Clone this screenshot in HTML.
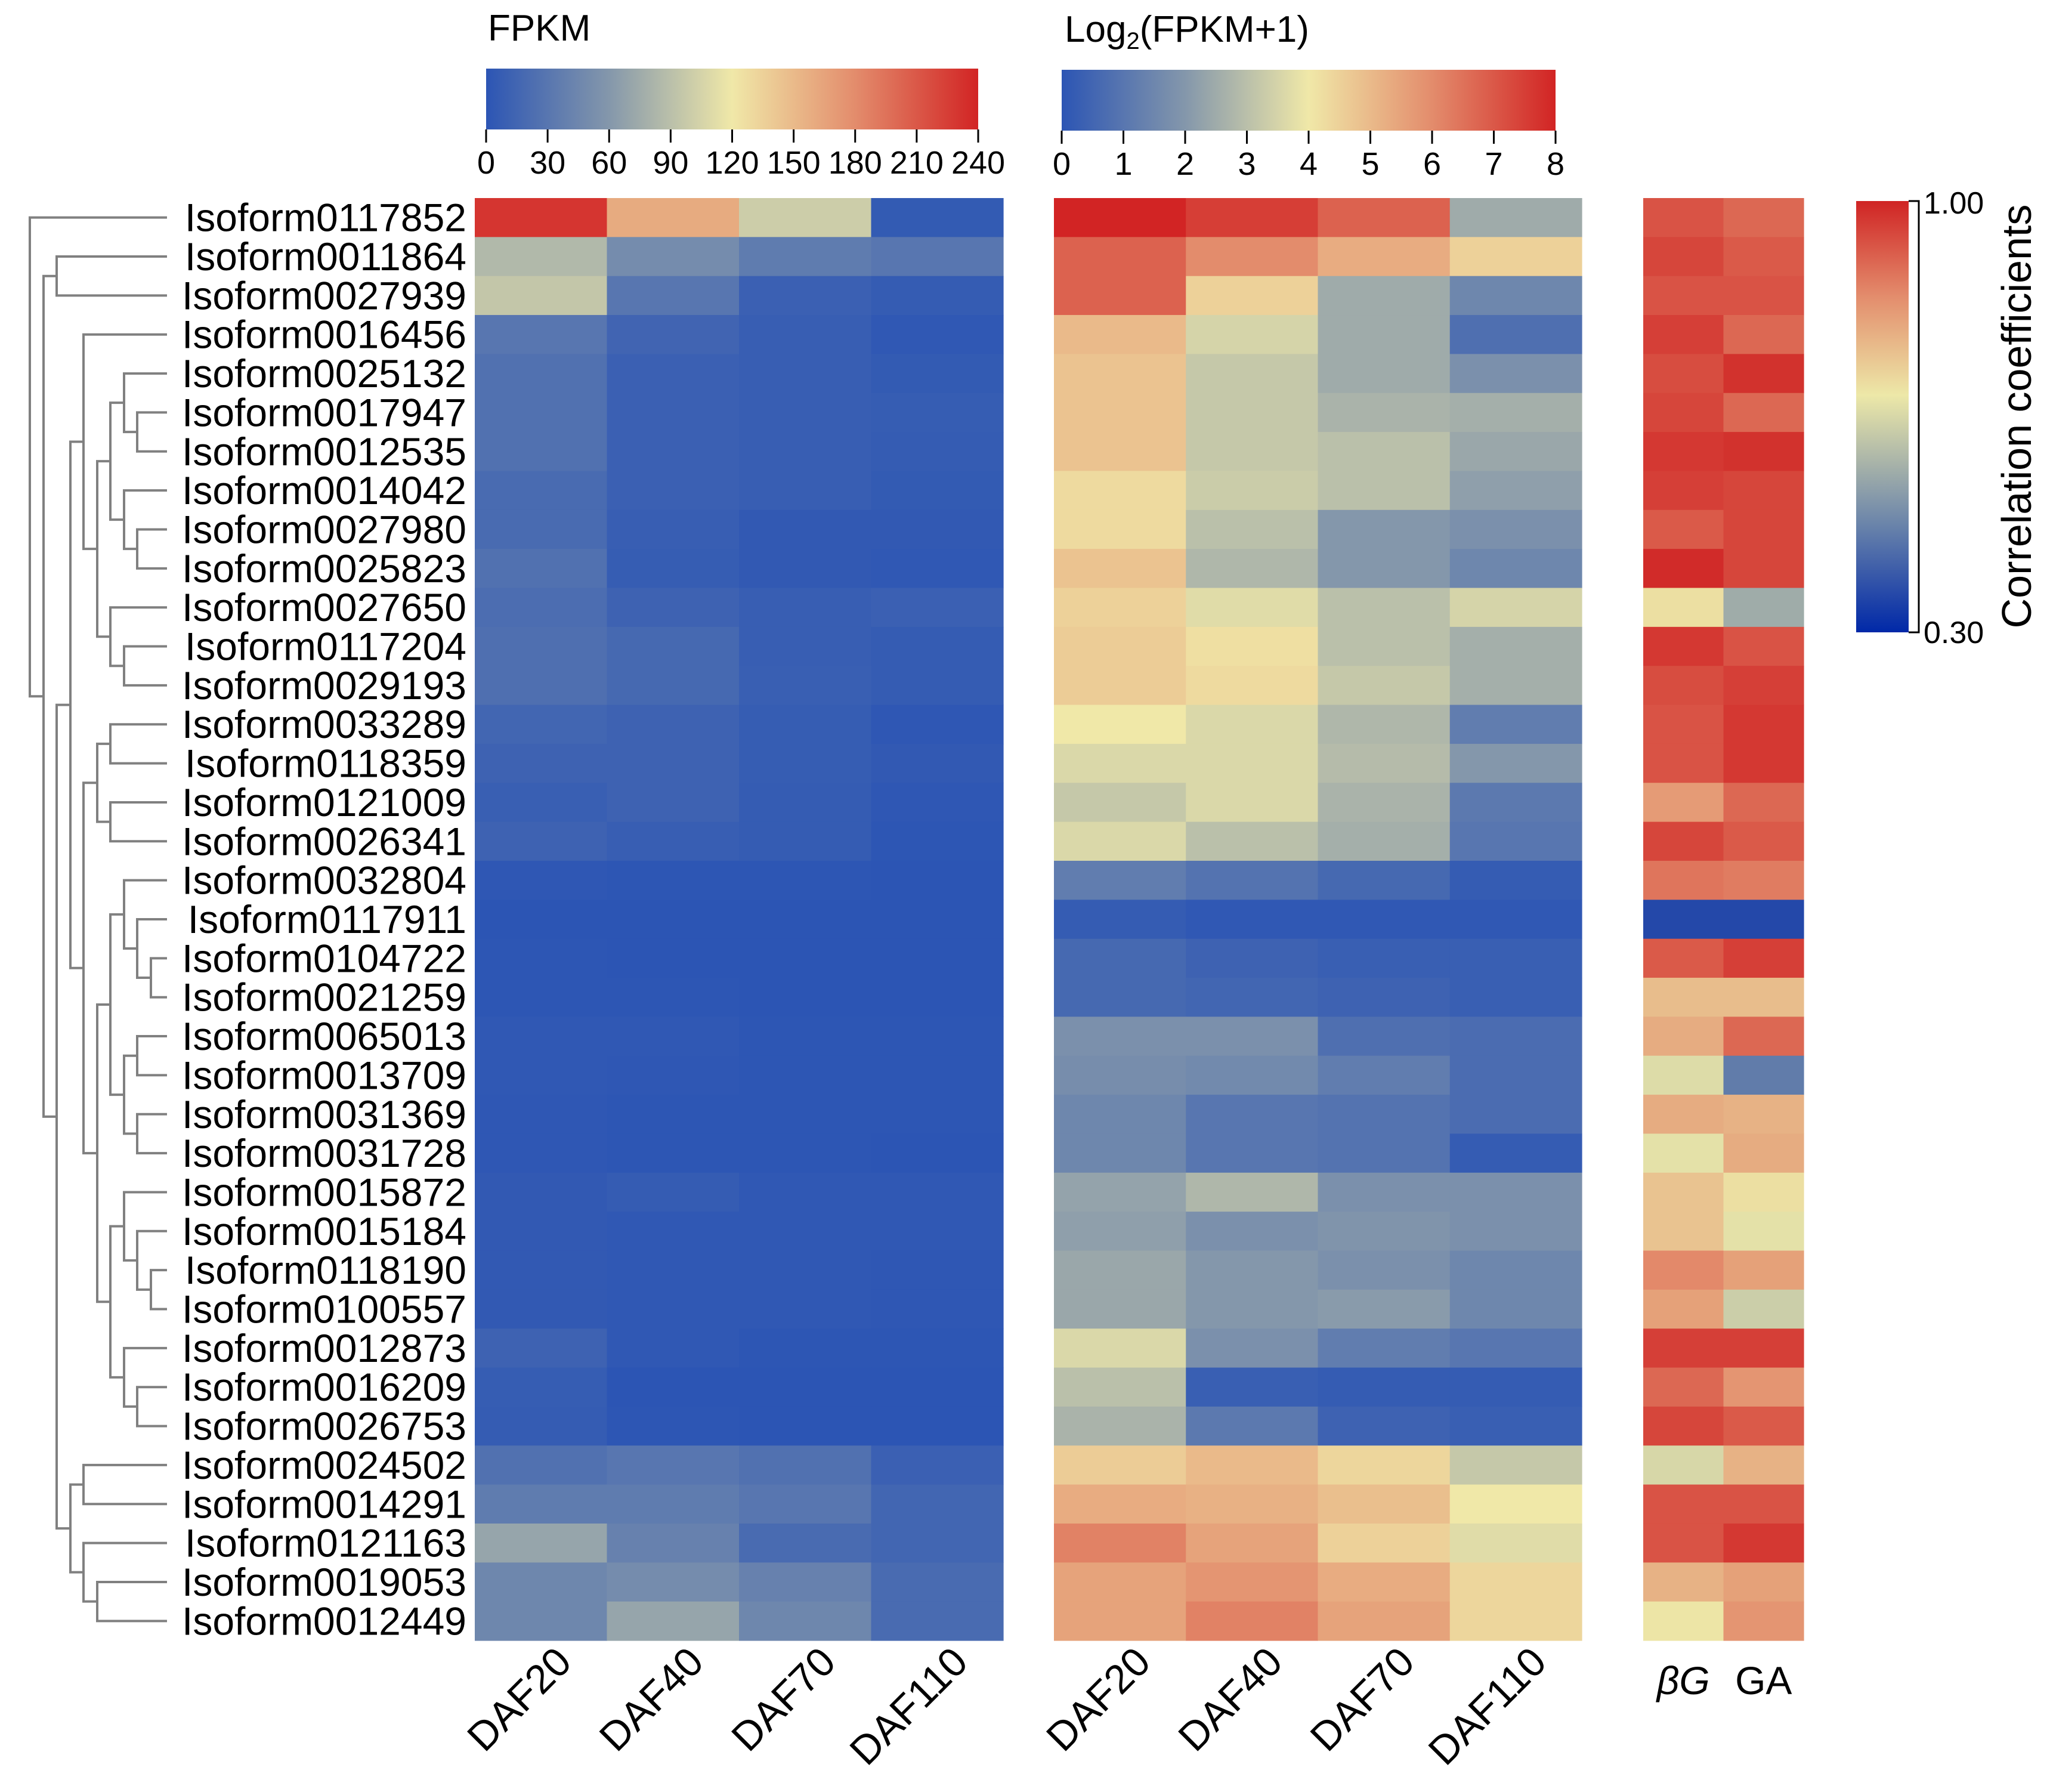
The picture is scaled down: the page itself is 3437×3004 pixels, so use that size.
<!DOCTYPE html>
<html><head><meta charset="utf-8"><style>
html,body{margin:0;padding:0;background:#fff;}
svg{display:block;font-family:"Liberation Sans",Arial,sans-serif;}
</style></head><body>
<svg id="chart" width="3437" height="3004" viewBox="0 0 3437 3004" xmlns="http://www.w3.org/2000/svg">
<defs>
<linearGradient id="gMain" x1="0" x2="1" y1="0" y2="0">
<stop offset="0" stop-color="#2c55b4"/><stop offset="0.25" stop-color="#8497ab"/><stop offset="0.5" stop-color="#f0e8a8"/><stop offset="0.75" stop-color="#e38c6c"/><stop offset="1" stop-color="#d22424"/>
</linearGradient>
<linearGradient id="gCorr" x1="0" x2="0" y1="1" y2="0">
<stop offset="0" stop-color="#0028a8"/><stop offset="0.25" stop-color="#6a84aa"/><stop offset="0.55" stop-color="#ede8a8"/><stop offset="0.78" stop-color="#e38c6c"/><stop offset="1" stop-color="#d02424"/>
</linearGradient>
</defs>
<g id="dendro"></g>
<g id="labels"></g>
<g id="hm1"></g>
<g id="hm2"></g>
<g id="hm3"></g>
<g id="legends"></g>
</svg>
<script>
const rowLabels=["Isoform0117852","Isoform0011864","Isoform0027939","Isoform0016456","Isoform0025132","Isoform0017947","Isoform0012535","Isoform0014042","Isoform0027980","Isoform0025823","Isoform0027650","Isoform0117204","Isoform0029193","Isoform0033289","Isoform0118359","Isoform0121009","Isoform0026341","Isoform0032804","Isoform0117911","Isoform0104722","Isoform0021259","Isoform0065013","Isoform0013709","Isoform0031369","Isoform0031728","Isoform0015872","Isoform0015184","Isoform0118190","Isoform0100557","Isoform0012873","Isoform0016209","Isoform0026753","Isoform0024502","Isoform0014291","Isoform0121163","Isoform0019053","Isoform0012449"];
const stages=["DAF20","DAF40","DAF70","DAF110"];
const corrCols=["βG","GA"];
const fpkmTicks=[0,30,60,90,120,150,180,210,240];
const logTicks=[0,1,2,3,4,5,6,7,8];
const corrTicks=["1.00","0.30"];
const fpkm=[[230,160,100,5],[85,50,35,30],[95,30,10,6],[30,14,8,3],[25,10,8,5],[25,10,8,7],[25,10,8,6],[20,10,8,5],[20,8,4,4],[25,7,4,3],[22,12,8,10],[24,18,8,6],[24,18,9,6],[15,12,7,2],[12,12,7,4],[9,12,6,2],[12,8,6,1],[2,1,1,0],[0,0,0,0],[1,0,0,0],[1,1,0,0],[3,3,1,1],[3,2,1,1],[2,1,1,1],[2,1,1,0],[4,6,3,3],[4,3,3,3],[4,3,3,2],[4,3,3,2],[12,3,1,1],[7,0,0,0],[6,1,0,0],[25,30,25,10],[35,35,30,15],[70,40,20,15],[45,50,40,20],[45,70,45,20]];
const log2v=[[8,7.5,6.8,2.5],[6.8,6,5.3,4.5],[6.8,4.5,2.5,1.5],[5.0,3.5,2.5,0.8],[4.8,3.2,2.5,1.8],[4.8,3.2,2.7,2.6],[4.8,3.2,3,2.4],[4.3,3.3,3,2.2],[4.3,3.0,2.0,1.8],[4.8,2.8,2.0,1.5],[4.5,3.7,3,3.5],[4.6,4.2,3.0,2.6],[4.6,4.3,3.2,2.6],[4.0,3.6,2.8,1.2],[3.6,3.6,2.9,2.0],[3.2,3.6,2.7,1.1],[3.6,3.0,2.6,1.0],[1.2,0.9,0.6,0.2],[0.2,0.1,0.1,0.1],[0.6,0.4,0.3,0.3],[0.6,0.5,0.4,0.3],[1.8,1.8,0.8,0.7],[1.7,1.6,1.2,0.7],[1.5,1.0,0.9,0.7],[1.5,1.0,0.9,0.2],[2.3,2.8,1.8,1.8],[2.2,1.8,1.9,1.8],[2.4,2.0,1.8,1.5],[2.4,2.0,2.1,1.5],[3.6,1.8,1.2,1.0],[3.0,0.3,0.2,0.2],[2.7,1.1,0.4,0.3],[4.6,5,4.4,3.2],[5.3,5.2,4.9,4],[6.2,5.5,4.5,3.7],[5.5,5.8,5.3,4.4],[5.5,6.2,5.5,4.4]];
const corr=[[.93,.90],[.95,.92],[.93,.93],[.96,.90],[.94,.98],[.95,.90],[.97,.98],[.96,.95],[.92,.95],[.99,.95],[.70,.56],[.97,.93],[.94,.96],[.93,.97],[.93,.97],[.82,.90],[.95,.92],[.88,.87],[.36,.36],[.92,.96],[.76,.76],[.79,.90],[.66,.46],[.79,.78],[.67,.79],[.75,.70],[.75,.67],[.85,.81],[.81,.63],[.96,.96],[.90,.83],[.95,.92],[.65,.78],[.93,.93],[.93,.97],[.78,.81],[.69,.83]];
const tree=[0,0,[1,[2,1,2],[2,[3,[4,3,[5,[6,[7,4,[8,5,6]],[7,7,[8,8,9]]],[6,10,[7,11,12]]]],[4,[5,[6,13,14],[6,15,16]],[5,[6,[7,17,[8,18,[9,19,20]]],[7,[8,21,22],[8,23,24]]],[6,[7,25,[8,26,[9,27,28]]],[7,29,[8,30,31]]]]]],[3,[4,32,33],[4,34,[5,35,36]]]]]];

const NS="http://www.w3.org/2000/svg";
function mk(tag,attrs,parent){const e=document.createElementNS(NS,tag);for(const k in attrs)e.setAttribute(k,attrs[k]);parent.appendChild(e);return e;}
const mainStops=[[0,[44,85,180]],[0.25,[132,151,171]],[0.5,[240,232,168]],[0.75,[227,140,108]],[1,[210,36,36]]];
const corrStops=[[0,[0,40,168]],[0.25,[106,132,170]],[0.55,[237,232,168]],[0.78,[227,140,108]],[1,[208,36,36]]];
function cmap(t,stops){t=Math.max(0,Math.min(1,t));for(let i=1;i<stops.length;i++){if(t<=stops[i][0]){const a=stops[i-1],b=stops[i];const f=(t-a[0])/(b[0]-a[0]);const c=a[1].map((v,j)=>Math.round(v+(b[1][j]-v)*f));return `rgb(${c[0]},${c[1]},${c[2]})`;}}return "rgb(208,36,36)";}
const topY=332,botY=2750,nR=rowLabels.length,rh=(botY-topY)/nR;
const yRow=i=>topY+rh*(i+0.5);
function heat(g,data,x0,x1,norm,stops,name){const nc=data[0].length,cw=(x1-x0)/nc;data.forEach((row,i)=>row.forEach((v,j)=>{const r=mk('rect',{x:x0+cw*j,y:topY+rh*i,width:cw+0.6,height:rh+0.6,fill:cmap(norm(v),stops)},g);}));}
heat(document.getElementById('hm1'),fpkm,796,1682,v=>v/240,mainStops,'fpkm');
heat(document.getElementById('hm2'),log2v,1767,2652,v=>v/8,mainStops,'log2');
heat(document.getElementById('hm3'),corr,2755,3024,v=>(v-0.3)/0.7,corrStops,'corr');
const lg=document.getElementById('labels');
rowLabels.forEach((s,i)=>{const t=mk('text',{x:782,y:yRow(i)+23,'text-anchor':'end','font-size':66,fill:'#000'},lg);t.textContent=s;});
const levels=[50,73,95,118,140,163,185,208,230,253],leafX=280;
const dg=document.getElementById('dendro');
function draw(n){if(typeof n==='number')return {x:leafX,y:yRow(n)};const L=draw(n[1]),R=draw(n[2]);const x=levels[n[0]];const p=mk('path',{d:`M${L.x},${L.y}H${x}V${R.y}H${R.x}`,fill:'none',stroke:'#808080','stroke-width':4},dg);return {x:x,y:(L.y+R.y)/2};}
draw(tree);
const leg=document.getElementById('legends');
function xlabels(x0,x1,labs,name){const cw=(x1-x0)/labs.length;labs.forEach((s,j)=>{const cx=x0+cw*(j+0.5)+55,cy=2790;const t=mk('text',{x:cx,y:cy,'text-anchor':'end','font-size':68,transform:`rotate(-45 ${cx} ${cy})`},leg);t.textContent=s;});}
xlabels(796,1682,stages,'fpkm-x-label');xlabels(1767,2652,stages,'log2-x-label');
corrCols.forEach((s,j)=>{const t=mk('text',{x:2755+134.5*(j+0.5),y:2840,'text-anchor':'middle','font-size':66,'font-style':j===0?'italic':'normal'},leg);t.textContent=s;});
function hbar(x0,x1,y0,y1,ticks,name){const r=mk('rect',{x:x0,y:y0,width:x1-x0,height:y1-y0,fill:'url(#gMain)'},leg);
const mx=ticks[ticks.length-1];ticks.forEach(v=>{const x=x0+(x1-x0)*v/mx;mk('line',{x1:x,x2:x,y1:y1,y2:y1+22,stroke:'#000','stroke-width':3},leg);const t=mk('text',{x:x,y:y1+74,'text-anchor':'middle','font-size':54},leg);t.textContent=v;});}
hbar(815,1640,115,217,fpkmTicks,'fpkm');
hbar(1780,2608,117,219,logTicks,'log2');
let t=mk('text',{x:818,y:68,'font-size':62},leg);t.textContent='FPKM';
t=mk('text',{x:1785,y:70,'font-size':62},leg);
t.appendChild(document.createTextNode('Log'));
let ts=mk('tspan',{'font-size':40,dy:12},t);ts.textContent='2';
ts=mk('tspan',{dy:-12},t);ts.textContent='(FPKM+1)';
const cb=mk('rect',{x:3112,y:337,width:88,height:723,fill:'url(#gCorr)'},leg);
mk('path',{d:'M3200,337H3217V1060H3200',fill:'none',stroke:'#000','stroke-width':3},leg);
t=mk('text',{x:3225,y:358,'font-size':52},leg);t.textContent=corrTicks[0];
t=mk('text',{x:3225,y:1078,'font-size':52},leg);t.textContent=corrTicks[1];
t=mk('text',{x:3405,y:698,'font-size':70,'text-anchor':'middle',transform:'rotate(-90 3405 698)'},leg);t.textContent='Correlation coefficients';
</script>
</body></html>
